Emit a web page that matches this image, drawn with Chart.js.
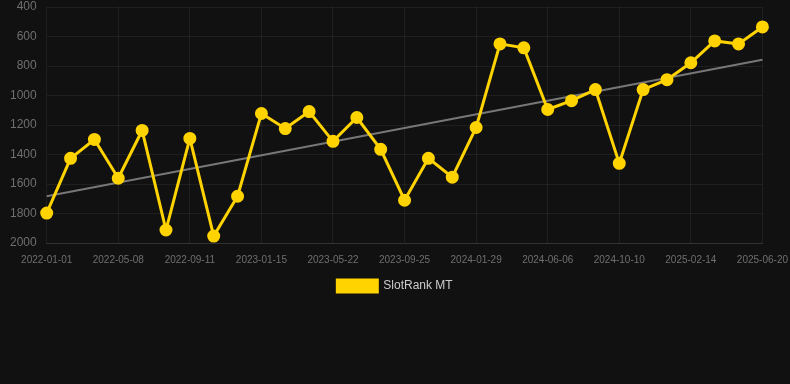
<!DOCTYPE html>
<html>
<head>
<meta charset="utf-8">
<script src="https://cdn.jsdelivr.net/npm/chart.js@4/dist/chart.umd.min.js"></script>
<style>
  html, body { margin: 0; padding: 0; background: #111111; }
  #wrap { position: relative; width: 790px; height: 302px; }
</style>
</head>
<body>
<div id="wrap"><canvas id="rankChart"></canvas></div>
<script>
const dates = [
  "2022-01-01", "2022-02-12", "2022-03-26", "2022-05-08", "2022-06-19", "2022-07-31",
  "2022-09-11", "2022-10-23", "2022-12-04", "2023-01-15", "2023-02-26", "2023-04-09",
  "2023-05-22", "2023-07-03", "2023-08-14", "2023-09-25", "2023-11-06", "2023-12-18",
  "2024-01-29", "2024-03-12", "2024-04-24", "2024-06-06", "2024-07-18", "2024-08-29",
  "2024-10-10", "2024-11-21", "2025-01-02", "2025-02-14", "2025-03-28", "2025-05-09",
  "2025-06-20"
];

const rankValues = [
  1797, 1426, 1298, 1561, 1237, 1912, 1291, 1953, 1683, 1122, 1224,
  1109, 1311, 1149, 1365, 1710, 1426, 1554, 1217, 650, 677,
  1095, 1035, 960, 1460, 960, 893, 778, 630, 650, 535
];

// trend line end points (first and last date)
const trendValues = [1683, 758];

const yRange = [400, 2000];
const yStep = 200;

const gridColor = "rgba(255,255,255,0.06)";
const tickColor = "#6f6f6f";
const fontFamily = "Arial, 'Liberation Sans', sans-serif";

new Chart(document.getElementById("rankChart"), {
  type: "line",
  data: {
    labels: dates,
    datasets: [
      {
        label: "SlotRank MT",
        data: rankValues,
        borderColor: "#FFD300",
        backgroundColor: "#FFD300",
        borderWidth: 3,
        pointRadius: 5,
        pointHoverRadius: 6,
        pointBackgroundColor: "#FFD300",
        pointBorderColor: "#FFD300",
        tension: 0
      },
      {
        label: "trend",
        data: [
          { x: dates[0], y: trendValues[0] },
          { x: dates[dates.length - 1], y: trendValues[1] }
        ],
        borderColor: "#777777",
        borderWidth: 2,
        pointRadius: 0,
        fill: false
      }
    ]
  },
  options: {
    responsive: true,
    maintainAspectRatio: false,
    animation: false,
    layout: { padding: 0, autoPadding: false },
    plugins: {
      legend: {
        position: "bottom",
        labels: {
          color: "#cccccc",
          font: { family: fontFamily, size: 12 },
          boxWidth: 40,
          boxHeight: 12,
          padding: 12,
          filter: item => item.text !== "trend"
        }
      },
      tooltip: { enabled: false }
    },
    scales: {
      x: {
        grid: { color: gridColor, drawTicks: true, tickLength: 9, tickColor: "transparent" },
        border: { color: "#333333" },
        ticks: {
          color: tickColor,
          font: { family: fontFamily, size: 10 },
          maxRotation: 0,
          autoSkip: false,
          padding: 2,
          callback: function (val, i) { return i % 3 === 0 ? dates[i] : null; }
        }
      },
      y: {
        reverse: true,
        min: yRange[0],
        max: yRange[1],
        grid: { color: gridColor, drawTicks: true, tickLength: 9, tickColor: "transparent" },
        border: { display: false },
        afterFit: scale => { scale.width += 9; },
        ticks: {
          stepSize: yStep,
          color: tickColor,
          font: { family: fontFamily, size: 12, lineHeight: 1 },
          padding: 1,
          callback: v => String(v)
        }
      }
    }
  }
});
</script>
</body>
</html>
